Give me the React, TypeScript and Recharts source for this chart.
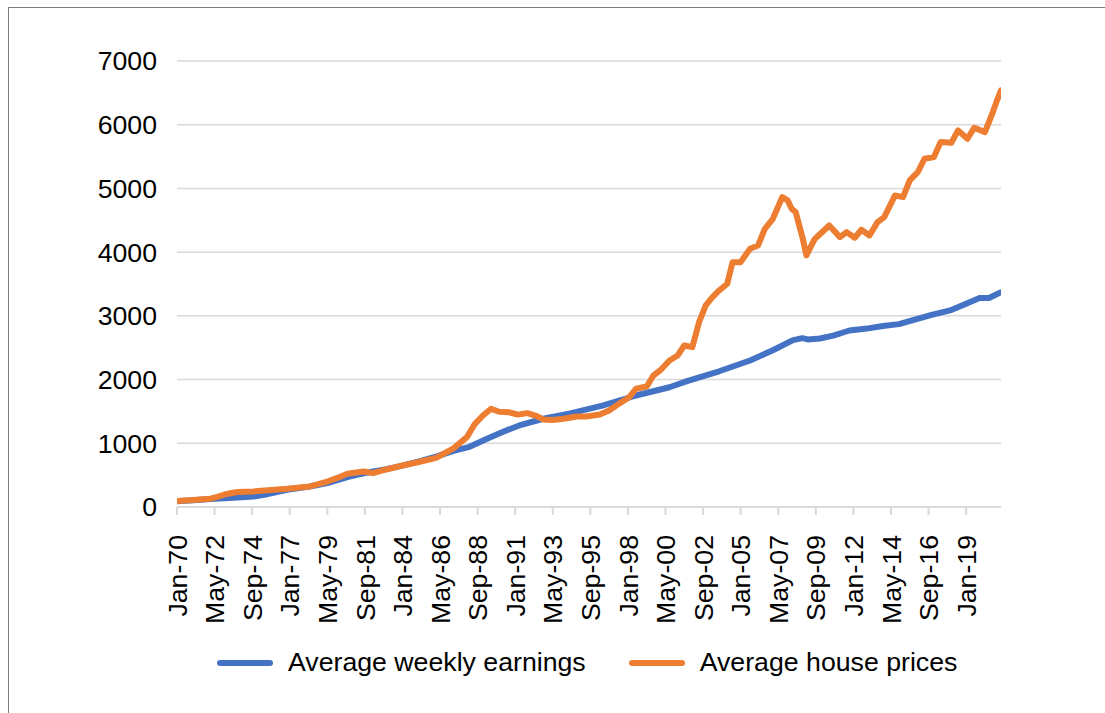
import { LineChart, Line, XAxis, YAxis, CartesianGrid, Legend } from "recharts";

// months counted from Jan-70
const tickMonths = [0, 28, 56, 84, 112, 140, 168, 196, 224, 252, 280, 308, 336, 364, 392, 420, 448, 476, 504, 532, 560, 588];
const tickLabels = [
  "Jan-70", "May-72", "Sep-74", "Jan-77", "May-79", "Sep-81", "Jan-84", "May-86",
  "Sep-88", "Jan-91", "May-93", "Sep-95", "Jan-98", "May-00", "Sep-02", "Jan-05",
  "May-07", "Sep-09", "Jan-12", "May-14", "Sep-16", "Jan-19",
];
const yTicks = [0, 1000, 2000, 3000, 4000, 5000, 6000, 7000];

const earningsMonths = [
  0, 12, 25, 45, 57, 65, 82, 99, 112, 127, 139, 156, 168, 181, 193, 206, 218, 231, 243, 255,
  273, 293, 317, 342, 367, 380, 404, 427, 444, 459, 466, 470, 479, 489, 501, 514, 526, 538,
  551, 563, 576, 588, 598, 605, 614,
];
const earnings = [
  90, 105, 125, 150, 165, 190, 270, 320, 375, 470, 530, 595, 650, 720, 790, 880, 945, 1070, 1180, 1280,
  1385, 1470, 1590, 1750, 1880, 1975, 2130, 2300, 2460, 2620, 2650, 2630, 2645, 2690, 2770, 2800, 2840, 2870,
  2950, 3020, 3085, 3190, 3280, 3280, 3370,
];

const priceMonths = [
  0, 12, 25, 30, 36, 45, 57, 68, 82, 99, 112, 120, 127, 139, 146, 156, 168, 181, 193, 206,
  216, 222, 228, 234, 240, 247, 254, 261, 267, 273, 280, 288, 298, 305, 315, 322, 330, 337, 342, 350,
  355, 360, 367, 373, 378, 384, 389, 394, 399, 404, 410, 414, 420, 427, 433, 438, 444, 451, 455, 458,
  461, 466, 469, 475, 480, 486, 494, 499, 505, 510, 516, 522, 527, 535, 541, 546, 552, 557, 564, 569,
  577, 582, 589, 594, 602, 607, 611, 614,
];
const housePrices = [
  95, 110, 130, 160, 200, 235, 245, 262, 285, 322, 400, 460, 521, 557, 531, 589, 651, 710, 770, 920,
  1096, 1306, 1436, 1541, 1495, 1488, 1450, 1473, 1436, 1375, 1365, 1385, 1421, 1421, 1452, 1515, 1630, 1724, 1856, 1892,
  2064, 2143, 2300, 2378, 2535, 2509, 2901, 3163, 3294, 3399, 3504, 3843, 3843, 4053, 4105, 4367, 4524, 4863, 4812, 4681,
  4628, 4236, 3950, 4200, 4300, 4419, 4236, 4314, 4226, 4351, 4262, 4471, 4550, 4890, 4863, 5126, 5256, 5466, 5492, 5727,
  5717, 5911, 5780, 5953, 5884, 6146, 6381, 6538,
];

const earningsData = earningsMonths.map((m, i) => ({ month: m, value: earnings[i] }));
const priceData = priceMonths.map((m, i) => ({ month: m, value: housePrices[i] }));

const FONT = "'Liberation Sans', Arial, sans-serif";
const FS = 26.7;
const BLUE = "#4472C4";
const ORANGE = "#ED7D31";

function MonthTick(props: any) {
  const { x, y, payload } = props;
  const idx = tickMonths.indexOf(payload.value);
  return (
    <g transform={`translate(${x},${y})`}>
      <text transform="rotate(-90)" textAnchor="end" dy="0.36em" fontSize={FS} fill="#000" fontFamily={FONT}>
        {tickLabels[idx]}
      </text>
    </g>
  );
}

function LegendBox() {
  const items = [
    { name: "Average weekly earnings", color: BLUE },
    { name: "Average house prices", color: ORANGE },
  ];
  return (
    <div style={{ display: "flex", alignItems: "center", gap: 43, fontFamily: FONT, fontSize: FS, color: "#000", whiteSpace: "nowrap" }}>
      {items.map((it) => (
        <div key={it.name} style={{ display: "flex", alignItems: "center" }}>
          <span style={{ display: "inline-block", width: 56, height: 6, borderRadius: 3, background: it.color, marginRight: 15 }} />
          <span>{it.name}</span>
        </div>
      ))}
    </div>
  );
}

export default function App() {
  return (
    <div style={{ position: "absolute", left: 0, top: 0, width: 1105, height: 713, background: "#fff" }}>
      <div
        style={{
          position: "absolute",
          left: 8,
          top: 7,
          width: 1097,
          height: 706,
          borderLeft: "1px solid #7f7f7f",
          borderTop: "1px solid #7f7f7f",
          boxSizing: "border-box",
        }}
      />
      <div style={{ position: "absolute", left: 0, top: 0 }}>
        <LineChart width={1105} height={713} margin={{ top: 61, right: 104, bottom: 76, left: 97 }}>
          <CartesianGrid vertical={false} stroke="#d9d9d9" strokeWidth={1.5} />
          <XAxis
            type="number"
            dataKey="month"
            domain={[0, 614]}
            ticks={tickMonths}
            interval={0}
            height={130}
            tick={<MonthTick />}
            tickSize={8}
            tickMargin={20}
            axisLine={{ stroke: "#d9d9d9", strokeWidth: 2 }}
            tickLine={{ stroke: "#d9d9d9", strokeWidth: 2 }}
            allowDataOverflow
          />
          <YAxis
            type="number"
            domain={[0, 7000]}
            ticks={yTicks}
            interval={0}
            width={80}
            axisLine={false}
            tickLine={false}
            tickSize={6}
            tickMargin={14}
            tick={{ fontSize: FS, fill: "#000", fontFamily: FONT }}
          />
          <Legend
            layout="horizontal"
            verticalAlign="middle"
            align="center"
            wrapperStyle={{ top: 647, left: 217, width: "auto" }}
            content={() => <LegendBox />}
          />
          <Line
            data={earningsData}
            dataKey="value"
            name="Average weekly earnings"
            stroke={BLUE}
            strokeWidth={6}
            dot={false}
            strokeLinejoin="round"
            strokeLinecap="round"
            isAnimationActive={false}
          />
          <Line
            data={priceData}
            dataKey="value"
            name="Average house prices"
            stroke={ORANGE}
            strokeWidth={6}
            dot={false}
            strokeLinejoin="round"
            strokeLinecap="round"
            isAnimationActive={false}
          />
        </LineChart>
      </div>
    </div>
  );
}
